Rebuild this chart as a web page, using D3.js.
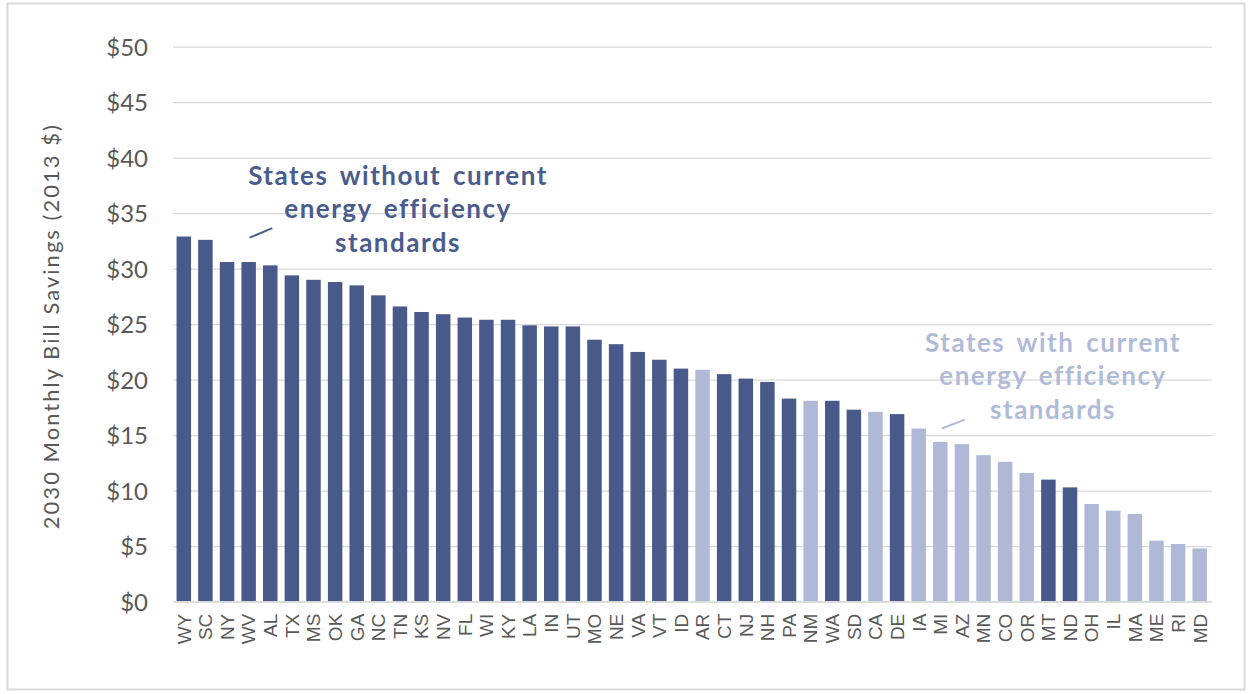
<!DOCTYPE html>
<html>
<head>
<meta charset="utf-8">
<script src="https://cdn.jsdelivr.net/npm/d3@7"></script>
<style>
  html, body { margin: 0; padding: 0; background: #ffffff; }
  svg { display: block; }
</style>
</head>
<body>
<svg id="chart" width="1251" height="694"></svg>
<script>
// State codes, ordered by projected 2030 monthly bill savings
const states = ["WY","SC","NY","WV","AL","TX","MS","OK","GA","NC","TN","KS","NV","FL","WI","KY",
  "LA","IN","UT","MO","NE","VA","VT","ID","AR","CT","NJ","NH","PA","NM","WA","SD","CA","DE",
  "IA","MI","AZ","MN","CO","OR","MT","ND","OH","IL","MA","ME","RI","MD"];

// 2030 monthly bill savings (2013 $)
const savings = [32.9,32.6,30.6,30.6,30.3,29.4,29.0,28.8,28.5,27.6,26.6,26.1,25.9,25.6,25.4,25.4,
  24.9,24.8,24.8,23.6,23.2,22.5,21.8,21.0,20.9,20.5,20.1,19.8,18.3,18.1,18.1,17.3,17.1,16.9,
  15.6,14.4,14.2,13.2,12.6,11.6,11.0,10.3,8.8,8.2,7.9,5.5,5.2,4.8];

// Whether the state already has energy efficiency standards
const hasStandards = [0,0,0,0,0,0,0,0,0,0,0,0,0,0,0,0,
  0,0,0,0,0,0,0,0,1,0,0,0,0,1,0,0,1,0,
  1,1,1,1,1,1,0,0,1,1,1,1,1,1];

const yTicks = [0,5,10,15,20,25,30,35,40,45,50];

const COLOR_WITHOUT = "#475a8a";
const COLOR_WITH = "#afb9d7";
const TEXT_GRAY = "#595959";
const GRID = "#d9d9d9";

const svg = d3.select("#chart");

// outer frame
svg.append("rect")
  .attr("x", 7.5).attr("y", 3.5)
  .attr("width", 1237).attr("height", 686)
  .attr("fill", "none").attr("stroke", GRID).attr("stroke-width", 2);

const x = d3.scaleBand()
  .domain(states)
  .range([173, 1210.5])
  .paddingInner(0.33)
  .paddingOuter(0.165);

const y = d3.scaleLinear()
  .domain([0, 50])
  .range([601.7, 46.7]);

// horizontal gridlines
const grid = svg.append("g")
  .attr("transform", "translate(173,0)")
  .call(d3.axisLeft(y).tickValues(yTicks).tickSize(-1039).tickFormat(""));
grid.select(".domain").remove();
grid.selectAll(".tick line").attr("stroke", GRID).attr("stroke-width", 1.3);

// y tick labels
const yAxis = svg.append("g")
  .attr("transform", "translate(148,0)")
  .call(d3.axisLeft(y).tickValues(yTicks).tickSize(0).tickPadding(0).tickFormat(d => "$" + d));
yAxis.select(".domain").remove();
yAxis.selectAll(".tick text")
  .attr("fill", TEXT_GRAY)
  .style("font-family", "Lato, 'Open Sans', sans-serif")
  .style("font-size", "24px")
  .attr("dy", "0.36em");

// y axis title
svg.append("text")
  .attr("transform", `translate(59,${(y(0) + y(50)) / 2 + 3}) rotate(-90)`)
  .attr("text-anchor", "middle")
  .attr("fill", TEXT_GRAY)
  .attr("textLength", 404)
  .attr("lengthAdjust", "spacing")
  .style("font-family", "Lato, 'Open Sans', sans-serif")
  .style("font-size", "22px")
  .text("2030 Monthly Bill Savings (2013 $)");

// bars
const data = states.map((s, i) => ({ state: s, value: savings[i], std: hasStandards[i] }));
svg.append("g").selectAll("rect")
  .data(data)
  .join("rect")
  .attr("x", d => x(d.state))
  .attr("y", d => y(d.value))
  .attr("width", x.bandwidth())
  .attr("height", d => y(0) - y(d.value))
  .attr("fill", d => d.std ? COLOR_WITH : COLOR_WITHOUT);

// baseline
svg.append("line")
  .attr("x1", 173).attr("x2", 1211)
  .attr("y1", y(0)).attr("y2", y(0))
  .attr("stroke", GRID).attr("stroke-width", 1.5);

// x axis labels (rotated state codes)
const xAxis = svg.append("g")
  .attr("transform", `translate(0,${y(0)})`)
  .call(d3.axisBottom(x).tickSize(0).tickPadding(0));
xAxis.select(".domain").remove();
xAxis.selectAll(".tick text")
  .attr("fill", TEXT_GRAY)
  .style("font-family", "'Liberation Sans', Arial, sans-serif")
  .style("font-size", "19px")
  .attr("text-anchor", "end")
  .attr("transform", "translate(0,12) rotate(-90)")
  .attr("x", 0)
  .attr("y", 0)
  .attr("dy", "0.36em");

// annotations, placed in data space
const annotations = [
  { lines: ["States without current", "energy efficiency", "standards"],
    color: "#4a5c8e", cx: 398, firstBaseline: 185,
    leader: { from: ["WV", 32.8, 1], to: ["AL", 33.65, 2] } },
  { lines: ["States with current", "energy efficiency", "standards"],
    color: "#b0bbd8", cx: 1053, firstBaseline: 352,
    leader: { from: ["MI", 15.6, 1.5], to: ["AZ", 16.4, 3] } }
];

annotations.forEach(a => {
  const t = svg.append("text")
    .attr("text-anchor", "middle")
    .attr("fill", a.color)
    .style("font-family", "Lato, 'Open Sans', sans-serif")
    .style("font-weight", "bold")
    .style("font-size", "26px")
    .style("letter-spacing", "1.5px")
    .style("word-spacing", "4px");
  a.lines.forEach((ln, i) => {
    t.append("tspan").attr("x", a.cx).attr("y", a.firstBaseline + i * 33.3).text(ln);
  });
  const [s1, v1, o1] = a.leader.from;
  const [s2, v2, o2] = a.leader.to;
  svg.append("line")
    .attr("x1", x(s1) + x.bandwidth() / 2 + o1).attr("y1", y(v1))
    .attr("x2", x(s2) + x.bandwidth() / 2 + o2).attr("y2", y(v2))
    .attr("stroke", a.color).attr("stroke-width", 2);
});
</script>
</body>
</html>
